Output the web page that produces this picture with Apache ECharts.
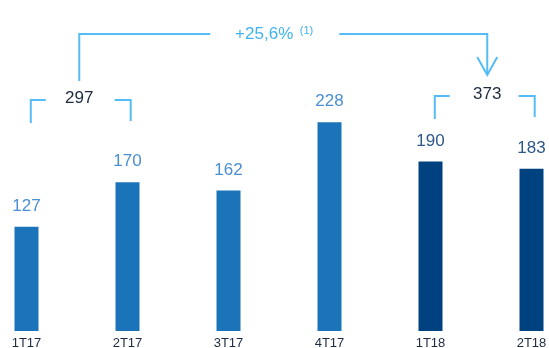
<!DOCTYPE html>
<html><head><meta charset="utf-8">
<script src="https://cdn.jsdelivr.net/npm/echarts@6/dist/echarts.min.js"></script>
<style>html,body{margin:0;padding:0;background:#fff;overflow:hidden;width:549px;height:348px;position:relative}
#c{width:606px;height:348px;position:absolute;left:-24px;top:0}</style>
</head><body><div id="c"></div>
<script>
const categories = ['1T17', '2T17', '3T17', '4T17', '1T18', '2T18'];
const values = [127, 170, 162, 228, 190, 183];
const groupTotals = [297, 373];
const groupRanges = [[0, 1], [4, 5]];
const growthLabel = '+25,6%';
const growthNote = '(1)';

const FONT = '"Liberation Sans", Arial, sans-serif';
const BAR_LIGHT = '#1b74ba', BAR_DARK = '#00427f';
const LBL_LIGHT = '#4a8fd3', LBL_DARK = '#2e5888';
const LINE = '#55bcf5', GROWTH = '#3fb3ef', TOTAL = '#1e2a40';

const chart = echarts.init(document.getElementById('c'), null, {renderer: 'canvas'});
chart.setOption({
  animation: false,
  backgroundColor: '#fff',
  grid: {left: 0, right: 0, top: 21, bottom: 17, outerBoundsMode: 'none'},
  xAxis: {
    type: 'category', data: categories,
    axisLine: {show: false}, axisTick: {show: false},
    axisLabel: {color: '#1d2c46', fontSize: 13, fontFamily: FONT, margin: 6}
  },
  yAxis: {type: 'value', min: 26, max: 326, show: false},
  series: [{
    type: 'bar', barWidth: 24,
    data: values.map((v, i) => {
      const dark = categories[i].endsWith('18');
      return {
        value: v,
        itemStyle: {color: dark ? BAR_DARK : BAR_LIGHT},
        label: {color: dark ? LBL_DARK : LBL_LIGHT}
      };
    }),
    label: {show: true, position: 'top', distance: 12, fontSize: 17, fontFamily: FONT}
  }]
});

const px = i => chart.convertToPixel({seriesIndex: 0}, [i, values[i]])[0];
const g = [];
function line(points) {
  g.push({type: 'polyline', silent: true, shape: {points}, style: {stroke: LINE, lineWidth: 2, fill: null}});
}
function text(x, y, t, font, fill, align) {
  g.push({type: 'text', silent: true, x, y, style: {text: t, font, fill, align: align || 'center', verticalAlign: 'middle'}});
}
const tops = [100, 96];
const mids = [];
groupRanges.forEach((r, k) => {
  const x0 = px(r[0]) + 4.3, x1 = px(r[1]) + 3.2;
  const yT = tops[k];
  line([[x0, yT + 23], [x0, yT], [x0 + 15, yT]]);
  line([[x1 - 16, yT], [x1, yT], [x1, yT + 21]]);
  const xm = (x0 + x1) / 2 - 1.5;
  mids.push(xm);
  text(xm + (k ? 4 : 0), yT - 1.5, String(groupTotals[k]), '17px ' + FONT, TOTAL);
});
const yA = 34;
const gapL = mids[0] + 131, gapR = mids[1] - 144;
const xArrow = mids[1] + 4;
line([[mids[0], 81], [mids[0], yA], [gapL, yA]]);
line([[gapR, yA], [xArrow, yA], [xArrow, 75]]);
line([[xArrow - 10, 57], [xArrow, 75], [xArrow + 10, 57]]);
const gc = (gapL + gapR) / 2;
text(gc + 18.5, yA, growthLabel, '17px ' + FONT, GROWTH, 'right');
text(gc + 25, yA - 3.5, growthNote, '11px ' + FONT, GROWTH, 'left');
chart.setOption({graphic: g});
</script>
</body></html>
